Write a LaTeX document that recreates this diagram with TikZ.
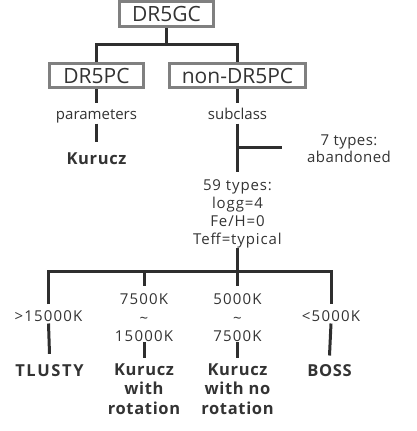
\documentclass[tikz,border=0pt]{standalone}
\usepackage{fontspec}
\setmainfont{Open Sans}
\definecolor{txt}{HTML}{333333}
\definecolor{linec}{HTML}{2E2E2E}
\definecolor{boxgray}{HTML}{808080}
\newcommand{\numsp}{\addfontfeatures{LetterSpace=8}}
\newcommand{\boldsp}{\bfseries\addfontfeatures{LetterSpace=4}}
\begin{document}
\begin{tikzpicture}[x=1pt,y=-1pt,
  box/.style={draw=boxgray, line width=3pt, inner sep=0pt, text=txt,
    minimum height=24pt, font=\fontsize{21}{21}\selectfont},
  lbl/.style={inner sep=0pt, text=txt, anchor=base, text height=11pt, text depth=4pt,
    font=\fontsize{15}{18}\selectfont},
  res/.style={lbl, font=\fontsize{16.5}{18}\selectfont\boldsp},
  multi/.style={inner sep=0pt, text=txt, anchor=north, align=center},
  conn/.style={draw=linec, line width=3pt}]
\useasboundingbox (0,0) rectangle (416,431);
% boxes
\node[box, minimum width=94pt, minimum height=25pt] (gc) at (166.5,14) {DR5GC};
\node[box, minimum width=94pt] (pc) at (96.5,75.5) {DR5PC};
\node[box, minimum width=136pt] (npc) at (237.5,75.5) {non-DR5PC};
\coordinate (j0) at (166.5,44);
\draw[conn] (gc.south) -- (j0);
\draw[conn] (pc.north) |- (j0) -| (npc.north);
% left branch
\node[lbl] (param) at (96.5,119.3) {parameters};
\node[res] (kur) at (96.5,164.3) {Kurucz};
\draw[conn] (pc.south) -- ([yshift=5pt]param.north);
\draw[conn] (param.south) -- ([yshift=11.6pt]kur.north);
% right branch
\node[lbl] (subc) at (237.5,119.3) {subclass};
\node[multi, font=\fontsize{15}{17}\selectfont\addfontfeatures{LetterSpace=3}] (t7) at (349,135) {7 types:\\abandoned};
\node[multi, font=\fontsize{15}{18.1}\selectfont\addfontfeatures{LetterSpace=6}] (t59) at (237.5,179) {59 types:\\logg=4\\Fe/H=0\\Teff=typical};
\coordinate (j1) at (237.5,147.7);
\draw[conn] (npc.south) -- ([yshift=5pt]subc.north);
\draw[conn] (subc.south) -- ([yshift=6.7pt]t59.north);
\draw[conn] (j1) -- ([xshift=-25pt]j1 -| t7.west);
% bottom level
\coordinate (j2) at (237.5,271.7);
\node[lbl, font=\fontsize{15}{18}\selectfont\numsp] (gt) at (48.5,321.7) {>15000K};
\node[lbl, font=\fontsize{15}{18}\selectfont\numsp] (lt) at (331,321.7) {<5000K};
\node[multi, font=\fontsize{15}{18.7}\selectfont\numsp] (r2) at (144,293.3) {7500K\\\textasciitilde\\15000K};
\node[multi, font=\fontsize{15}{18.7}\selectfont\numsp] (r3) at (237.5,293.3) {5000K\\\textasciitilde\\7500K};
\node[res, font=\fontsize{16.5}{18}\selectfont\bfseries\addfontfeatures{LetterSpace=10}] (tl) at (49.5,376.7) {TLUSTY};
\node[res] (boss) at (329.5,376.7) {BOSS};
\node[multi, font=\fontsize{16.5}{19.3}\selectfont\boldsp] (m2) at (144,363.5) {Kurucz\\with\\rotation};
\node[multi, font=\fontsize{16.5}{19.3}\selectfont\boldsp] (m3) at (237.5,363.5) {Kurucz\\with no\\rotation};
\draw[conn] (t59.south) -- (j2);
\draw[conn] ([yshift=6.4pt]gt.north) |- (j2) -| ([yshift=6.4pt]lt.north);
\draw[conn] (r2.north |- j2) -- ([yshift=7.3pt]r2.north);
\draw[conn] (j2) -- ([yshift=7.3pt]r3.north);
\draw[conn] ([yshift=2.4pt]gt.south) -- ([yshift=11.7pt]tl.north);
\draw[conn] ([yshift=2.4pt]lt.south) -- ([yshift=10pt]boss.north);
\draw[conn] (r2.south) -- ([yshift=5.8pt]m2.north);
\draw[conn] (r3.south) -- ([yshift=5.8pt]m3.north);
\end{tikzpicture}
\end{document}
